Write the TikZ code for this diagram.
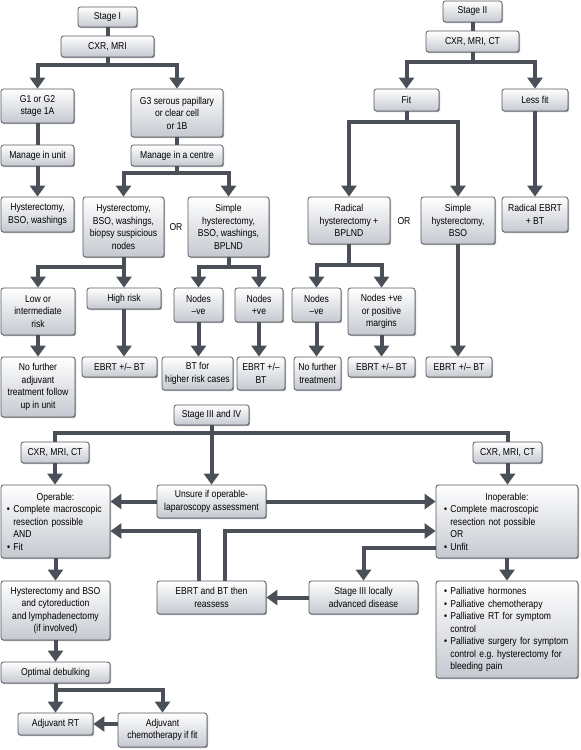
\documentclass[tikz,border=0pt]{standalone}
\usepackage{fontspec}
\setmainfont[FakeStretch=0.86]{Liberation Sans}
\usetikzlibrary{arrows.meta,shadows}
\definecolor{linegray}{HTML}{4A4F58}
\definecolor{boxgray}{HTML}{C5C9D0}
\definecolor{edgegray}{HTML}{55595F}

\begin{document}
\begin{tikzpicture}[
  x=1pt, y=-1pt,
  font=\fontsize{10}{12.5}\selectfont,
  box/.style 2 args={draw=edgegray, line width=0.8pt, rounded corners=2.5pt,
    top color=white, bottom color=boxgray, align=center, inner sep=1pt,
    minimum width=#1pt, minimum height=#2pt,
    drop shadow={shadow xshift=1pt, shadow yshift=-1.2pt, opacity=0.35, fill=black}},
  link/.style={draw=linegray, line width=4pt},
  arrow/.style={link, -{Triangle[width=15pt,length=11pt]}}]
  \useasboundingbox (0,0) rectangle (581,750);

  \node[box={59}{20}] (stageI) at (107.5,17) {Stage I};
  \node[box={93}{21}] (cxrI) at (107.5,46.5) {CXR, MRI};
  \node[box={73}{34}] (gradeLow) at (37.5,106) {G1 or G2\\stage 1A};
  \node[box={92}{48}] (gradeHigh) at (177,113) {G3 serous papillary\\or clear cell\\or 1B};
  \node[box={73}{21}] (unit) at (37.5,155.5) {Manage in unit};
  \node[box={92}{21}] (centre) at (177,155.5) {Manage in a centre};
  \node[box={73}{35}] (hystI) at (37.5,214.5) {Hysterectomy,\\BSO, washings};
  \node[box={81}{60}] (biopsy) at (123.5,227) {Hysterectomy,\\BSO, washings,\\biopsy suspicious\\nodes};
  \node (orI) at (176,227) {OR};
  \node[box={81}{60}] (simpleI) at (228.5,227) {Simple\\hysterectomy,\\BSO, washings,\\BPLND};
  \node[box={74}{47}] (lowRisk) at (38,311.5) {Low or\\intermediate\\risk};
  \node[box={74}{21}] (highRisk) at (124,298.5) {High risk};
  \node[box={49}{34}] (negI) at (198.5,305) {Nodes\\–ve};
  \node[box={48}{34}] (posI) at (259,305) {Nodes\\+ve};
  \node[box={74}{60}] (noAdjuvant) at (38,387) {No further\\adjuvant\\treatment follow\\up in unit};
  \node[box={75}{20}] (ebrtA) at (119.5,367) {EBRT +/– BT};
  \node[box={71}{33}] (btHigher) at (197.5,373.5) {BT for\\higher risk cases};
  \node[box={48}{33}] (ebrtB) at (261,373.5) {EBRT +/–\\BT};

  \node[box={59}{21}] (stageII) at (472.5,11.5) {Stage II};
  \node[box={93}{21}] (cxrII) at (472.5,41.5) {CXR, MRI, CT};
  \node[box={65}{22}] (fit) at (406.5,100) {Fit};
  \node[box={66}{22}] (lessFit) at (535,100) {Less fit};
  \node[box={82}{47}] (radical) at (349,220.5) {Radical\\hysterectomy +\\BPLND};
  \node (orII) at (404,221) {OR};
  \node[box={74}{47}] (simpleII) at (458,220.5) {Simple\\hysterectomy,\\BSO};
  \node[box={66}{35}] (radEbrt) at (535,214.5) {Radical EBRT\\+ BT};
  \node[box={49}{34}] (negII) at (316.5,305) {Nodes\\–ve};
  \node[box={67}{47}] (posII) at (381.5,311.5) {Nodes +ve\\or positive\\margins};
  \node[box={47}{33}] (noTreat) at (317.5,373.5) {No further\\treatment};
  \node[box={67}{20}] (ebrtC) at (381.5,367) {EBRT +/– BT};
  \node[box={66}{20}] (ebrtD) at (459,367) {EBRT +/– BT};

  \node[box={75}{20}] (stageIII) at (211.5,415) {Stage III and IV};
  \node[box={68}{21}] (cxrL) at (55,452.5) {CXR, MRI, CT};
  \node[box={69}{21}] (cxrR) at (507.5,452.5) {CXR, MRI, CT};
  \node[box={109}{73}, align=left, text width=97pt, inner xsep=6pt] (operable) at (55.5,521.5)
    {\makebox[97pt]{Operable:}\\• Complete macroscopic\\\phantom{• }resection possible\\\phantom{• }AND\\• Fit};
  \node[box={109}{33}] (unsure) at (211.5,501.5) {Unsure if operable-\\laparoscopy assessment};
  \node[box={142}{73}, align=left, text width=126pt, inner xsep=8pt] (inoperable) at (507,521.5)
    {\makebox[126pt]{Inoperable:}\\• Complete macroscopic\\\phantom{• }resection not possible\\\phantom{• }OR\\• Unfit};
  \node[box={109}{33}] (reassess) at (211.5,597.5) {EBRT and BT then\\reassess};
  \node[box={109}{33}] (locally) at (363.5,597.5) {Stage III locally\\advanced disease};
  \node[box={142}{97}, align=left, text width=126pt, inner xsep=8pt] (palliative) at (507,629.5)
    {• Palliative hormones\\• Palliative chemotherapy\\• Palliative RT for symptom\\\phantom{• }control\\• Palliative surgery for symptom\\\phantom{• }control e.g.\ hysterectomy for\\\phantom{• }bleeding pain};
  \node[box={109}{59}] (debulk) at (55.5,610.5) {Hysterectomy and BSO\\and cytoreduction\\and lymphadenectomy\\(if involved)};
  \node[box={109}{21}] (optimal) at (55.5,672.5) {Optimal debulking};
  \node[box={75}{22}] (adjRT) at (55.5,724) {Adjuvant RT};
  \node[box={89}{34}] (adjChemo) at (162.5,730) {Adjuvant\\chemotherapy if fit};

  \draw[link] (stageI) -- (cxrI);
  \draw[arrow] (cxrI.south) -- ++(0,8) -| (gradeLow.north);
  \draw[arrow] (cxrI.south) -- ++(0,8) -| (gradeHigh.north);
  \draw[link] (gradeLow) -- (unit);
  \draw[arrow] (unit) -- (hystI);
  \draw[link] (gradeHigh) -- (centre);
  \draw[arrow] (centre.south) -- ++(0,7) -| (biopsy.north);
  \draw[arrow] (centre.south) -- ++(0,7) -| (simpleI.north);
  \draw[arrow] (biopsy.south) -- ++(0,10) -| (lowRisk.north);
  \draw[arrow] (biopsy.south) -- ++(0,10) -| (highRisk.north);
  \draw[arrow] (simpleI.south) -- ++(0,10) -| (negI.north);
  \draw[arrow] (simpleI.south) -- ++(0,10) -| (posI.north);
  \draw[arrow] (lowRisk.south) -- (lowRisk.south |- noAdjuvant.north);
  \draw[arrow] (highRisk.south) -- (highRisk.south |- ebrtA.north);
  \draw[arrow] (negI.south) -- (negI.south |- btHigher.north);
  \draw[arrow] (posI.south) -- (posI.south |- ebrtB.north);

  \draw[link] (stageII) -- (cxrII);
  \draw[arrow] (cxrII.south) -- ++(0,10) -| (fit.north);
  \draw[arrow] (cxrII.south) -- ++(0,10) -| (lessFit.north);
  \draw[arrow] (fit.south) -- ++(0,11) -| (radical.north);
  \draw[arrow] (fit.south) -- ++(0,11) -| (simpleII.north);
  \draw[arrow] (lessFit) -- (radEbrt);
  \draw[arrow] (radical.south) -- ++(0,21) -| (negII.north);
  \draw[arrow] (radical.south) -- ++(0,21) -| (posII.north);
  \draw[arrow] (negII.south) -- (negII.south |- noTreat.north);
  \draw[arrow] (posII.south) -- (posII.south |- ebrtC.north);
  \draw[arrow] (simpleII.south) -- (simpleII.south |- ebrtD.north);

  \draw[link] (cxrL.north) -- ++(0,-9) -| (cxrR.north);
  \draw[arrow] (stageIII) -- (unsure);
  \draw[arrow] (cxrL.south) -- (cxrL.south |- operable.north);
  \draw[arrow] (cxrR.south) -- (cxrR.south |- inoperable.north);
  \draw[arrow] (unsure.west) -- (unsure.west -| operable.east);
  \draw[arrow] (unsure.east) -- (unsure.east -| inoperable.west);
  \draw[arrow] ([xshift=-12.5pt]reassess.north) |- ([yshift=-9.5pt]operable.east);
  \draw[arrow] ([xshift=13.5pt]reassess.north) |- ([yshift=-9.5pt]inoperable.west);
  \draw[arrow] ([yshift=-26.5pt]inoperable.west) -| (locally.north);
  \draw[arrow] (locally) -- (reassess);
  \draw[arrow] (inoperable) -- (palliative);
  \draw[arrow] (operable) -- (debulk);
  \draw[arrow] (debulk) -- (optimal);
  \draw[arrow] (optimal) -- (adjRT);
  \draw[arrow] (optimal.south) -- ++(0,7) -| (adjChemo.north);
  \draw[arrow] (adjChemo.west |- adjRT.east) -- (adjRT.east);
\end{tikzpicture}
\end{document}
